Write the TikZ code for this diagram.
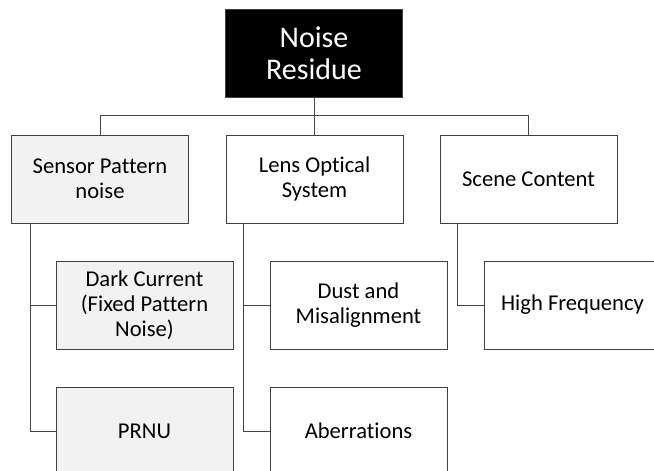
\documentclass[tikz,border=0pt]{standalone}
\usepackage{fontspec}
\setmainfont{Carlito}[Ligatures={NoCommon}]
\definecolor{boxline}{RGB}{64,64,64}
\definecolor{conline}{RGB}{70,70,70}
\definecolor{lightfill}{RGB}{242,242,242}
\begin{document}
\begin{tikzpicture}[x=1pt,y=-1pt,
  box/.style={draw=boxline,line width=1pt,minimum width=177pt,minimum height=88pt,
    inner sep=0pt,align=center,font=\fontsize{22.6}{25}\selectfont,text=black},
  graybox/.style={box,fill=lightfill},
  whitebox/.style={box,fill=white},
  conn/.style={draw=conline,line width=1pt}]
\useasboundingbox (0,0) rectangle (654,471);
\clip (0,0) rectangle (654,471);
\fill[white] (0,0) rectangle (654,471);
% root
\node[box,fill=black,text=white,font=\fontsize{30}{32.5}\selectfont] (root) at (314,53.5) {Noise\\Residue};
% level 1
\node[graybox]  (sensor) at (100,179)   {Sensor Pattern\\noise};
\node[whitebox] (lens)   at (314.5,179) {Lens Optical\\System};
\node[whitebox] (scene)  at (528.5,179) {Scene Content};
% level 2
\node[graybox]  (dc)     at (144.5,305) {Dark Current\\(Fixed Pattern\\Noise)};
\node[whitebox] (dust)   at (358.5,305) {Dust and\\Misalignment};
\node[whitebox] (hf)     at (572.5,305) {High Frequency};
% level 3
\node[graybox]  (prnu)   at (144.5,431) {PRNU};
\node[whitebox] (aber)   at (358.5,431) {Aberrations};
% connectors
\draw[conn] (root.south) -- (root.south |- lens.north);
\draw[conn] (sensor.north) -- ++(0,-19) -| (scene.north);
\draw[conn] ([xshift=-70pt]sensor.south) |- (dc.west);
\draw[conn] ([xshift=-70pt]sensor.south) |- (prnu.west);
\draw[conn] ([xshift=-71.5pt]lens.south) |- (dust.west);
\draw[conn] ([xshift=-71.5pt]lens.south) |- (aber.west);
\draw[conn] ([xshift=-71.5pt]scene.south) |- (hf.west);
\end{tikzpicture}
\end{document}
